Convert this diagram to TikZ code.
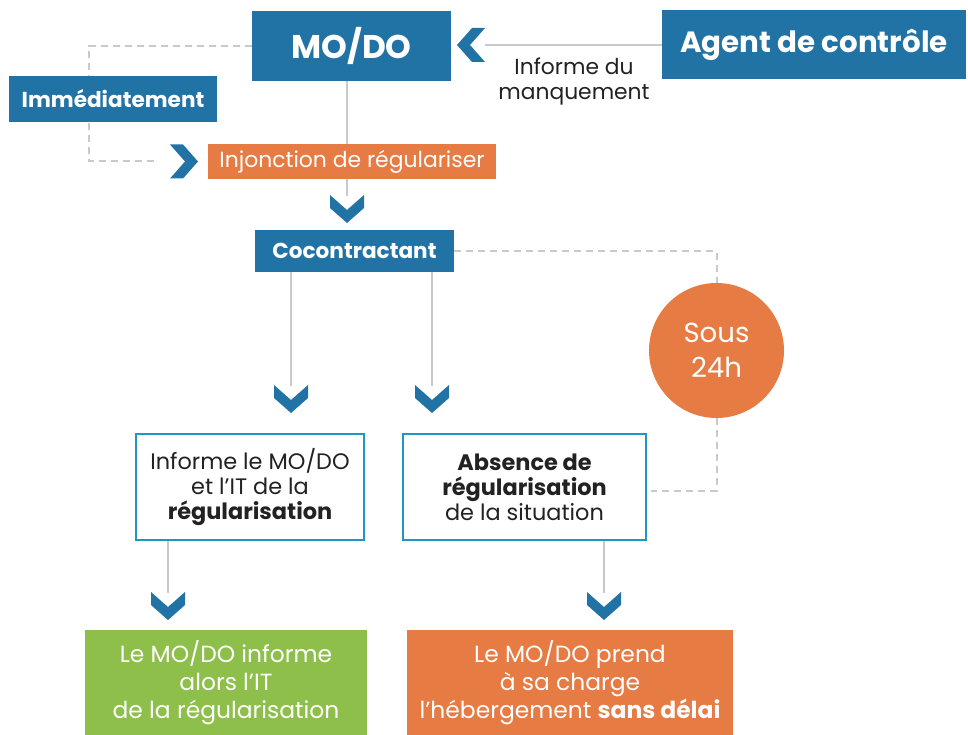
\documentclass[tikz,border=0pt]{standalone}
\usepackage{fontspec}
\setmainfont{Poppins}
\usetikzlibrary{positioning}
\usetikzlibrary{backgrounds}

\definecolor{modoblue}{HTML}{2273A5}
\definecolor{boxorange}{HTML}{E67B43}
\definecolor{boxgreen}{HTML}{8DBF4A}
\definecolor{frameblue}{HTML}{2196C4}
\definecolor{linegray}{HTML}{C8C9CD}
\definecolor{darktext}{HTML}{222222}

\begin{document}
\begin{tikzpicture}[x=1pt,y=-1pt,thick,
    box/.style={rectangle,inner sep=0pt,align=center},
    bluebox/.style={box,fill=modoblue,text=white,font=\fontsize{21.6}{25}\selectfont\bfseries},
    framebox/.style={box,draw=frameblue,line width=2.5pt,fill=white,text=darktext,
      minimum width=228,minimum height=106,font=\fontsize{22.4}{25}\selectfont},
    endbox/.style={box,text=white,minimum height=105,font=\fontsize{23.4}{28}\selectfont},
    link/.style={draw=linegray,line width=2pt},
    dlink/.style={link,dash pattern=on 7pt off 5pt},
    chev/.pic={\fill[modoblue] (-17,0) -- (0,15) -- (17,0) -- (17,13) -- (0,28) -- (-17,13) -- cycle;}
  ]
  \useasboundingbox (0,0) rectangle (968,735);

  % top row
  \node (modo) [bluebox,minimum width=199,minimum height=70,font=\fontsize{32.8}{36}\selectfont\bfseries] at (351.5,46) {MO/DO};
  \node (agent) [bluebox,minimum width=304,minimum height=69,font=\fontsize{29.3}{32}\selectfont\bfseries] at (814,44.5) {Agent de contrôle};
  \node (info) [box,text=darktext,font=\fontsize{21.8}{25}\selectfont] at (574,82) {Informe du\\manquement};
  \node (immed) [bluebox,minimum width=208,minimum height=46] at (113,99) {Immédiatement};
  \node (injonc) [box,fill=boxorange,text=white,minimum width=288,minimum height=35,font=\fontsize{21.9}{25}\selectfont] at (352,161.5) {Injonction de régulariser};
  \node (cocon) [bluebox,minimum width=199,minimum height=42] at (354.5,251) {Cocontractant};

  % delay and answers
  \node (sous) [circle,fill=boxorange,text=white,minimum size=135,inner sep=0pt,align=center,font=\fontsize{27.6}{35}\selectfont] at (716.5,350.5) {Sous\\24h};
  \node (inf) [framebox] at (250,487) {Informe le MO/DO\\et l’IT de la\\\textbf{régularisation}};
  \node (abs) [framebox,minimum width=243] at (524.5,487) {\textbf{Absence de}\\\textbf{régularisation}\\de la situation};
  \node (modoinf) [endbox,fill=boxgreen,minimum width=282] at (226,682.5) {Le MO/DO informe\\alors l'IT\\de la régularisation};
  \node (modoprend) [endbox,fill=boxorange,minimum width=326] at (570,682.5) {Le MO/DO prend\\à sa charge\\l'hébergement \textbf{sans délai}};

  % chevrons
  \coordinate (chL) at (485,45);
  \coordinate (chR) at (170,161.5);
  \coordinate (ch1) at (347,195);
  \coordinate (ch2) at (291,385);
  \coordinate (ch3) at (432,385);
  \coordinate (ch4) at (168,592);
  \coordinate (ch5) at (604,592);
  \coordinate (bend) at (89,161.5);
  \pic[rotate=-90] at (chL) {chev};
  \pic[rotate=90] at (chR) {chev};
  \foreach \c in {ch1,ch2,ch3,ch4,ch5}
    \pic at (\c) {chev};

  \begin{scope}[on background layer]
    \draw[link] (agent.west |- chL) -- (chL);
    \draw[link] (modo.south -| ch1) -- ([yshift=-1pt]ch1);
    \draw[dlink] (modo.west) -| (bend) -- ([xshift=-13pt]chR);
    \draw[link] (cocon.south -| ch2) -- ([yshift=-1pt]ch2);
    \draw[link] (cocon.south -| ch3) -- ([yshift=-1pt]ch3);
    \draw[dlink] (cocon.east) -| (sous.north);
    \draw[dlink] (sous.south) |- ([xshift=4pt,yshift=-4pt]abs.east);
    \draw[link] (inf.south -| ch4) -- ([yshift=-1pt]ch4);
    \draw[link] (abs.south -| ch5) -- ([yshift=-1pt]ch5);
  \end{scope}
\end{tikzpicture}
\end{document}
